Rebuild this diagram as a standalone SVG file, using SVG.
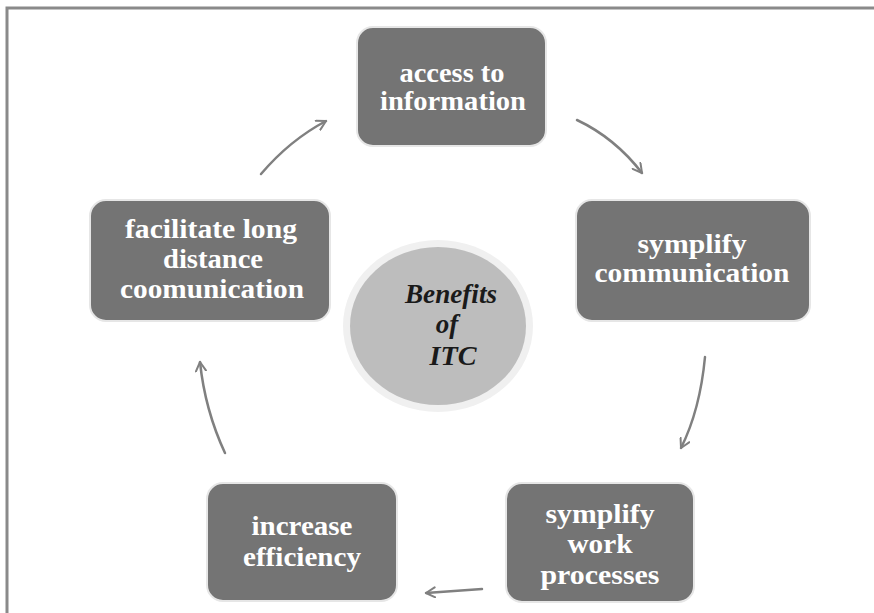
<svg xmlns="http://www.w3.org/2000/svg" width="874" height="613" viewBox="0 0 874 613">
  <defs>
    <style>
      .box { fill: #747474; stroke: #e6e6e6; stroke-width: 2; }
      .lbl { font-family: "Liberation Serif", "Times New Roman", serif; font-weight: bold; font-size: 28px; fill: #ffffff; text-anchor: middle; }
      .hub { font-family: "Liberation Serif", "Times New Roman", serif; font-weight: bold; font-style: italic; font-size: 27px; fill: #1a1a1a; text-anchor: middle; }
      .conn { fill: none; stroke: #808080; stroke-width: 2.5; stroke-linecap: round; }
    </style>
    <marker id="arrow" viewBox="0 0 12 12" refX="10" refY="6" markerWidth="12" markerHeight="12" markerUnits="userSpaceOnUse" orient="auto">
      <path d="M1,1 L10,6 L1,11" fill="none" stroke="#808080" stroke-width="2" stroke-linecap="round" stroke-linejoin="round"/>
    </marker>
  </defs>

  <rect width="874" height="613" fill="#ffffff"/>
  <!-- outer frame (top and left edges) -->
  <path d="M7,613 L7,8 L874,8" fill="none" stroke="#8a8a8a" stroke-width="3"/>

  <g id="hub">
    <ellipse cx="438" cy="326" rx="95" ry="86" fill="#f0f0f0"/>
    <ellipse cx="438" cy="326" rx="88" ry="79" fill="#bdbdbd"/>
    <text class="hub" x="451" y="303" textLength="92" lengthAdjust="spacingAndGlyphs">Benefits</text>
    <text class="hub" x="447" y="333">of</text>
    <text class="hub" x="453" y="365" textLength="47" lengthAdjust="spacingAndGlyphs">ITC</text>
  </g>

  <g id="access">
    <rect class="box" x="357" y="27" width="189" height="119" rx="16"/>
    <text class="lbl" x="452" y="82" textLength="105" lengthAdjust="spacingAndGlyphs">access to</text>
    <text class="lbl" x="453" y="110" textLength="146" lengthAdjust="spacingAndGlyphs">information</text>
  </g>

  <g id="communication">
    <rect class="box" x="576" y="200" width="234" height="121" rx="16"/>
    <text class="lbl" x="692" y="253" textLength="109" lengthAdjust="spacingAndGlyphs">symplify</text>
    <text class="lbl" x="692" y="282" textLength="195" lengthAdjust="spacingAndGlyphs">communication</text>
  </g>

  <g id="work">
    <rect class="box" x="506" y="483" width="188" height="119" rx="16"/>
    <text class="lbl" x="600" y="523" textLength="109" lengthAdjust="spacingAndGlyphs">symplify</text>
    <text class="lbl" x="600" y="553" textLength="65" lengthAdjust="spacingAndGlyphs">work</text>
    <text class="lbl" x="600" y="584" textLength="119" lengthAdjust="spacingAndGlyphs">processes</text>
  </g>

  <g id="efficiency">
    <rect class="box" x="207" y="483" width="190" height="118" rx="16"/>
    <text class="lbl" x="302" y="535" textLength="101" lengthAdjust="spacingAndGlyphs">increase</text>
    <text class="lbl" x="302" y="566" textLength="118" lengthAdjust="spacingAndGlyphs">efficiency</text>
  </g>

  <g id="distance">
    <rect class="box" x="90" y="200" width="240" height="121" rx="16"/>
    <text class="lbl" x="211" y="238" textLength="172" lengthAdjust="spacingAndGlyphs">facilitate long</text>
    <text class="lbl" x="213" y="268" textLength="100" lengthAdjust="spacingAndGlyphs">distance</text>
    <text class="lbl" x="212" y="298" textLength="184" lengthAdjust="spacingAndGlyphs">coomunication</text>
  </g>

  <g id="connectors">
    <path class="conn" d="M261,174 Q290,140 326,121" marker-end="url(#arrow)"/>
    <path class="conn" d="M577,120 Q615,138 642,173" marker-end="url(#arrow)"/>
    <path class="conn" d="M705,357 Q700,410 681,448" marker-end="url(#arrow)"/>
    <path class="conn" d="M482,589 Q455,591 426,593" marker-end="url(#arrow)"/>
    <path class="conn" d="M225,453 Q205,410 200,362" marker-end="url(#arrow)"/>
  </g>
</svg>
